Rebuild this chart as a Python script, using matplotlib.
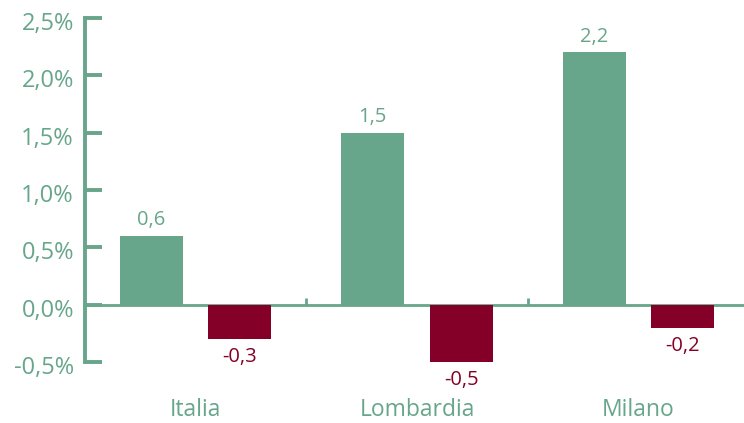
import matplotlib
matplotlib.use("Agg")
import matplotlib.pyplot as plt
import matplotlib.transforms as mtransforms

categories = ["Italia", "Lombardia", "Milano"]
green_values = [0.6, 1.5, 2.2]
red_values = [-0.3, -0.5, -0.2]
y_ticks = [-0.5, 0.0, 0.5, 1.0, 1.5, 2.0, 2.5]
y_tick_labels = ["-0,5%", "0,0%", "0,5%", "1,0%", "1,5%", "2,0%", "2,5%"]

GREEN = "#67A68A"
RED = "#850028"

plt.rcParams['font.family'] = ['Open Sans', 'DejaVu Sans']

fig = plt.figure(figsize=(7.44, 4.23), dpi=100)
ax = fig.add_axes([85/744, 61/423, 664/744, 344/423])

x = list(range(len(categories)))
w = 0.285
off = 0.2
gx = [i - off for i in x]
rx = [i + off for i in x]
ax.bar(gx, green_values, width=w, color=GREEN, zorder=3)
ax.bar(rx, red_values, width=w, color=RED, zorder=3)

for xi, v in zip(gx, green_values):
    ax.annotate(f"{v:.1f}".replace(".", ","), (xi, v), xytext=(0, 4),
                textcoords="offset points", ha="center", va="bottom",
                color=GREEN, fontsize=14.5)
for xi, v in zip(rx, red_values):
    ax.annotate(f"{v:.1f}".replace(".", ","), (xi, v), xytext=(0, -6),
                textcoords="offset points", ha="center", va="top",
                color=RED, fontsize=14.5)

ax.set_xlim(-0.5, 2.5)
ax.set_ylim(-0.5, 2.5)

ax.axhline(0, color=GREEN, lw=2, zorder=2)
ax.vlines([0.5, 1.5], 0, 0.06, color=GREEN, lw=2, zorder=2)

for s in ["top", "right", "bottom"]:
    ax.spines[s].set_visible(False)
ax.spines["left"].set_color(GREEN)
ax.spines["left"].set_linewidth(2.8)

ax.set_yticks(y_ticks)
ax.set_yticklabels(y_tick_labels)
ax.tick_params(axis="y", direction="in", length=12, width=2.8, color=GREEN,
               labelcolor=GREEN, labelsize=17, pad=8)
ax.set_xticks([])
shift = mtransforms.ScaledTranslation(0, -3/100, fig.dpi_scale_trans)
for lab in ax.get_yticklabels():
    lab.set_transform(lab.get_transform() + shift)

trans = mtransforms.blended_transform_factory(ax.transData, ax.transAxes)
for i, c in enumerate(categories):
    ax.text(i, -48/344, c, transform=trans, ha="center", va="center",
            color=GREEN, fontsize=16.5)

fig.savefig("out.png", dpi=100)
